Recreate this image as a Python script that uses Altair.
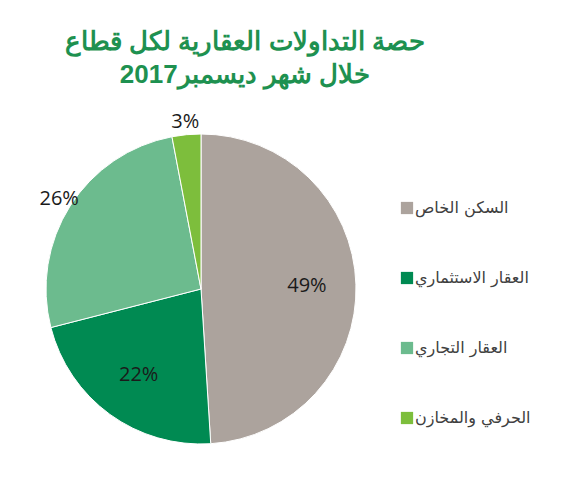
import altair as alt
import pandas as pd

categories = ["السكن الخاص", "العقار الاستثماري", "العقار التجاري", "الحرفي والمخازن"]
shares = [49, 22, 26, 3]
labels = ["49%", "22%", "26%", "3%"]
colors = ["#ACA39D", "#008A52", "#6CBB8E", "#7DBE3C"]
outside = ["العقار التجاري", "الحرفي والمخازن"]
title_lines = ["حصة التداولات العقارية لكل قطاع", "خلال شهر ديسمبر2017"]

df = pd.DataFrame({
    "cat": categories,
    "share": shares,
    "label": labels,
    "idx": list(range(len(categories))),
    "r": [168 if c in outside else 106 for c in categories],
})
total = float(sum(shares))

cx, cy = 193, 281
theta_scale = alt.Scale(domain=[0, total])

base = alt.Chart(df)

pie = base.mark_arc(outerRadius=155, stroke="white", strokeWidth=1).encode(
    theta=alt.Theta("share:Q", stack=True, scale=theta_scale),
    order=alt.Order("idx:Q"),
    color=alt.Color(
        "cat:N",
        scale=alt.Scale(domain=categories, range=colors),
        sort=categories,
        legend=alt.Legend(
            title=None,
            orient="none",
            legendX=391,
            legendY=192,
            symbolType="square",
            symbolSize=150,
            symbolStrokeWidth=0,
            labelFontSize=16,
            labelColor="#404040",
            labelFont="DejaVu Sans",
            labelLimit=300,
            rowPadding=54,
            labelOffset=0,
        ),
    ),
    x=alt.value(cx),
    y=alt.value(cy),
)

text = base.transform_stack(
    stack="share", as_=["s0", "s1"], groupby=[], sort=[alt.SortField("idx")]
).transform_calculate(
    mid="(datum.s0 + datum.s1) / 2"
).mark_text(fontSize=20, font="Open Sans", color="#1A1A1A").encode(
    theta=alt.Theta("mid:Q", stack=None, scale=theta_scale),
    radius=alt.Radius("r:Q", scale=None),
    text="label:N",
    x=alt.value(cx),
    y=alt.value(cy),
)

tdf = pd.DataFrame({"line": title_lines, "i": [0, 1]})
title = alt.Chart(tdf).mark_text(
    fontSize=26, fontWeight="bold", color="#1E9150", font="Arial", baseline="middle"
).encode(
    text="line:N",
    x=alt.value(237),
    y=alt.Y("i:Q", axis=None, scale=alt.Scale(domain=[0, 1], range=[34, 67])),
)

chart = alt.layer(title, pie, text).resolve_scale(y="independent").properties(
    width=556, height=484, autosize=alt.AutoSizeParams(type="none"), padding=0
).configure_view(stroke=None)

chart.save("out.html", embed_options={"renderer": "svg", "actions": False})
